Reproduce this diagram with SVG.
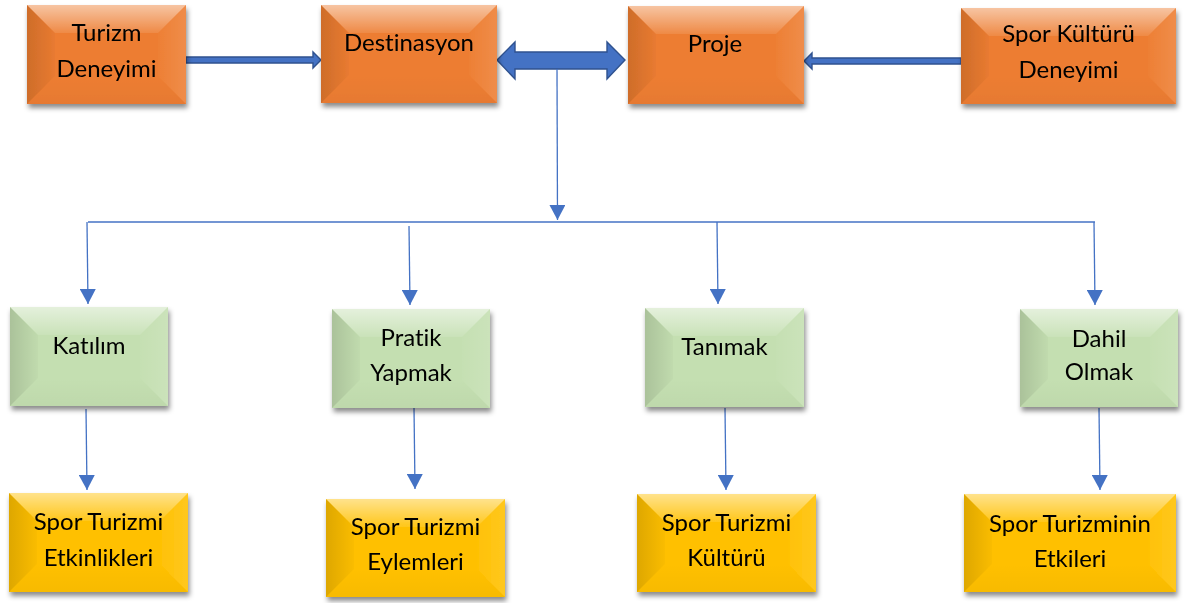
<svg xmlns="http://www.w3.org/2000/svg" width="1185" height="603" viewBox="0 0 1185 603">
  <defs>
    <style>
      .lbl { font-family: Lato, "Liberation Sans", sans-serif; font-size: 24px; fill: #000; text-anchor: middle; font-variant-ligatures: none; }
      .orange { fill: #ED7D31; }
      .green { fill: #C4DFB1; }
      .yellow { fill: #FFC000; }
      .bt { fill: url(#gTop); }
      .bl { fill: url(#gLeft); }
      .br { fill: url(#gRight); }
      .bb { fill: url(#gBottom); }
      .conn { stroke: #4472C4; stroke-width: 1.3; fill: none; marker-end: url(#head); }
      .plain { stroke: #4472C4; stroke-width: 1.3; fill: none; }
      .block { fill: #4472C4; stroke: #2F528F; stroke-width: 1.4; stroke-linejoin: miter; }
    </style>
    <linearGradient id="gTop" x1="0" y1="0" x2="0" y2="1">
      <stop offset="0" stop-color="#fff" stop-opacity="0.55"/>
      <stop offset="1" stop-color="#fff" stop-opacity="0.1"/>
    </linearGradient>
    <linearGradient id="gLeft" x1="0" y1="0" x2="1" y2="0">
      <stop offset="0" stop-color="#000" stop-opacity="0.13"/>
      <stop offset="1" stop-color="#000" stop-opacity="0.02"/>
    </linearGradient>
    <linearGradient id="gRight" x1="1" y1="0" x2="0" y2="0">
      <stop offset="0" stop-color="#fff" stop-opacity="0.12"/>
      <stop offset="1" stop-color="#fff" stop-opacity="0.02"/>
    </linearGradient>
    <linearGradient id="gBottom" x1="0" y1="1" x2="0" y2="0">
      <stop offset="0" stop-color="#000" stop-opacity="0.03"/>
      <stop offset="1" stop-color="#000" stop-opacity="0.0"/>
    </linearGradient>
    <filter id="shadow" x="-10%" y="-10%" width="125%" height="130%">
      <feDropShadow dx="1.5" dy="4" stdDeviation="2.5" flood-color="#000" flood-opacity="0.45"/>
    </filter>
    <marker id="head" markerUnits="userSpaceOnUse" markerWidth="16" markerHeight="16" refX="15" refY="8" orient="auto">
      <path d="M0,0 L15,8 L0,16 z" fill="#4472C4"/>
    </marker>
  </defs>

  <rect width="1185" height="603" fill="#fff"/>

  <!-- connectors -->
  <g id="connectors">
    <polygon class="block" points="186,57 313,57 313,52 321,60 313,68 313,63 186,63"/>
    <polygon class="block" points="961,58 812,58 812,53 804,61 812,69 812,64 961,64"/>
    <polygon class="block" points="497,60 515,42 515,52 607,52 607,42 625,60 607,79 607,69 515,69 515,79"/>
    <path class="conn" d="M557,69 L557.5,220"/>
    <path class="plain" d="M88,222 L1095,222"/>
    <path class="conn" d="M87,222 L88,304"/>
    <path class="conn" d="M409,226 L410,305"/>
    <path class="conn" d="M717,222 L718,304"/>
    <path class="conn" d="M1094,222 L1095,305"/>
    <path class="conn" d="M86,409 L87,490"/>
    <path class="conn" d="M414,408 L415,489"/>
    <path class="conn" d="M725,408 L726,490"/>
    <path class="conn" d="M1099,408 L1100,490"/>
  </g>

  <!-- top row -->
  <g id="turizm-deneyimi" transform="translate(27,5)" filter="url(#shadow)">
    <rect class="orange" width="159" height="99"/>
    <polygon class="bt" points="0,0 159,0 131,28 28,28"/>
    <polygon class="bl" points="0,0 28,28 28,71 0,99"/>
    <polygon class="br" points="159,0 159,99 131,71 131,28"/>
    <polygon class="bb" points="0,99 28,71 131,71 159,99"/>
    <text class="lbl" x="79.5" y="36">Turizm</text>
    <text class="lbl" x="79.5" y="72">Deneyimi</text>
  </g>

  <g id="destinasyon" transform="translate(321,5)" filter="url(#shadow)">
    <rect class="orange" width="176" height="98"/>
    <polygon class="bt" points="0,0 176,0 148,28 28,28"/>
    <polygon class="bl" points="0,0 28,28 28,70 0,98"/>
    <polygon class="br" points="176,0 176,98 148,70 148,28"/>
    <polygon class="bb" points="0,98 28,70 148,70 176,98"/>
    <text class="lbl" x="88" y="46">Destinasyon</text>
  </g>

  <g id="proje" transform="translate(628,6)" filter="url(#shadow)">
    <rect class="orange" width="176" height="98"/>
    <polygon class="bt" points="0,0 176,0 148,28 28,28"/>
    <polygon class="bl" points="0,0 28,28 28,70 0,98"/>
    <polygon class="br" points="176,0 176,98 148,70 148,28"/>
    <polygon class="bb" points="0,98 28,70 148,70 176,98"/>
    <text class="lbl" x="87" y="46">Proje</text>
  </g>

  <g id="spor-kulturu-deneyimi" transform="translate(961,8)" filter="url(#shadow)">
    <rect class="orange" width="215" height="96"/>
    <polygon class="bt" points="0,0 215,0 187,28 28,28"/>
    <polygon class="bl" points="0,0 28,28 28,68 0,96"/>
    <polygon class="br" points="215,0 215,96 187,68 187,28"/>
    <polygon class="bb" points="0,96 28,68 187,68 215,96"/>
    <text class="lbl" x="107.5" y="34">Spor Kültürü</text>
    <text class="lbl" x="107.5" y="70">Deneyimi</text>
  </g>

  <!-- middle row -->
  <g id="katilim" transform="translate(10,307)" filter="url(#shadow)">
    <rect class="green" width="158" height="99"/>
    <polygon class="bt" points="0,0 158,0 130,28 28,28"/>
    <polygon class="bl" points="0,0 28,28 28,71 0,99"/>
    <polygon class="br" points="158,0 158,99 130,71 130,28"/>
    <polygon class="bb" points="0,99 28,71 130,71 158,99"/>
    <text class="lbl" x="79" y="47">Katılım</text>
  </g>

  <g id="pratik-yapmak" transform="translate(332,309)" filter="url(#shadow)">
    <rect class="green" width="158" height="99"/>
    <polygon class="bt" points="0,0 158,0 130,28 28,28"/>
    <polygon class="bl" points="0,0 28,28 28,71 0,99"/>
    <polygon class="br" points="158,0 158,99 130,71 130,28"/>
    <polygon class="bb" points="0,99 28,71 130,71 158,99"/>
    <text class="lbl" x="79" y="37">Pratik</text>
    <text class="lbl" x="79" y="72">Yapmak</text>
  </g>

  <g id="tanimak" transform="translate(645,308)" filter="url(#shadow)">
    <rect class="green" width="159" height="99"/>
    <polygon class="bt" points="0,0 159,0 131,28 28,28"/>
    <polygon class="bl" points="0,0 28,28 28,71 0,99"/>
    <polygon class="br" points="159,0 159,99 131,71 131,28"/>
    <polygon class="bb" points="0,99 28,71 131,71 159,99"/>
    <text class="lbl" x="79.5" y="47">Tanımak</text>
  </g>

  <g id="dahil-olmak" transform="translate(1020,309)" filter="url(#shadow)">
    <rect class="green" width="158" height="98"/>
    <polygon class="bt" points="0,0 158,0 130,28 28,28"/>
    <polygon class="bl" points="0,0 28,28 28,70 0,98"/>
    <polygon class="br" points="158,0 158,98 130,70 130,28"/>
    <polygon class="bb" points="0,98 28,70 130,70 158,98"/>
    <text class="lbl" x="79" y="38">Dahil</text>
    <text class="lbl" x="79" y="71">Olmak</text>
  </g>

  <!-- bottom row -->
  <g id="spor-turizmi-etkinlikleri" transform="translate(9,493)" filter="url(#shadow)">
    <rect class="yellow" width="179" height="99"/>
    <polygon class="bt" points="0,0 179,0 151,28 28,28"/>
    <polygon class="bl" points="0,0 28,28 28,71 0,99"/>
    <polygon class="br" points="179,0 179,99 151,71 151,28"/>
    <polygon class="bb" points="0,99 28,71 151,71 179,99"/>
    <text class="lbl" x="89.5" y="37">Spor Turizmi</text>
    <text class="lbl" x="89.5" y="73">Etkinlikleri</text>
  </g>

  <g id="spor-turizmi-eylemleri" transform="translate(326,499)" filter="url(#shadow)">
    <rect class="yellow" width="179" height="98"/>
    <polygon class="bt" points="0,0 179,0 151,28 28,28"/>
    <polygon class="bl" points="0,0 28,28 28,70 0,98"/>
    <polygon class="br" points="179,0 179,98 151,70 151,28"/>
    <polygon class="bb" points="0,98 28,70 151,70 179,98"/>
    <text class="lbl" x="89.5" y="36">Spor Turizmi</text>
    <text class="lbl" x="89.5" y="71">Eylemleri</text>
  </g>

  <g id="spor-turizmi-kulturu" transform="translate(637,494)" filter="url(#shadow)">
    <rect class="yellow" width="179" height="98"/>
    <polygon class="bt" points="0,0 179,0 151,28 28,28"/>
    <polygon class="bl" points="0,0 28,28 28,70 0,98"/>
    <polygon class="br" points="179,0 179,98 151,70 151,28"/>
    <polygon class="bb" points="0,98 28,70 151,70 179,98"/>
    <text class="lbl" x="89.5" y="37">Spor Turizmi</text>
    <text class="lbl" x="89.5" y="72">Kültürü</text>
  </g>

  <g id="spor-turizminin-etkileri" transform="translate(964,494)" filter="url(#shadow)">
    <rect class="yellow" width="212" height="98"/>
    <polygon class="bt" points="0,0 212,0 184,28 28,28"/>
    <polygon class="bl" points="0,0 28,28 28,70 0,98"/>
    <polygon class="br" points="212,0 212,98 184,70 184,28"/>
    <polygon class="bb" points="0,98 28,70 184,70 212,98"/>
    <text class="lbl" x="106" y="38">Spor Turizminin</text>
    <text class="lbl" x="106" y="73">Etkileri</text>
  </g>
</svg>
